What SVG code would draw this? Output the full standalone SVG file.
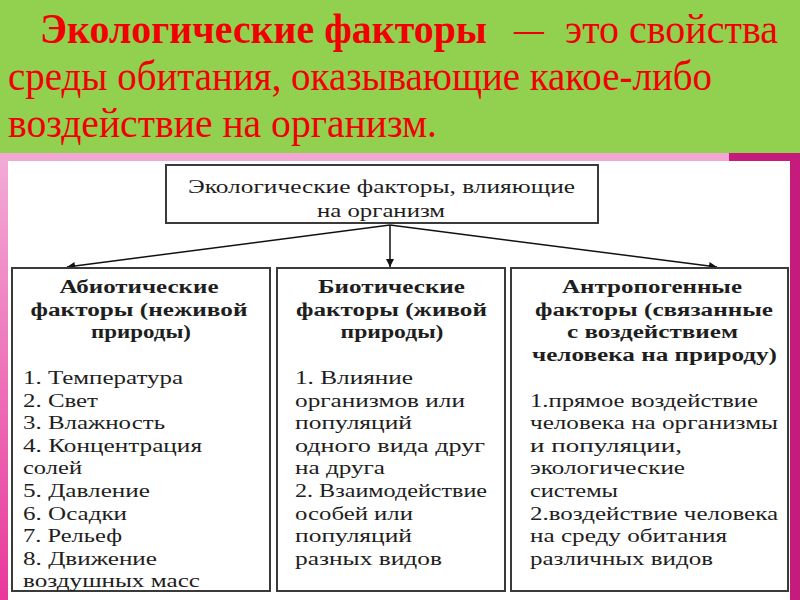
<svg xmlns="http://www.w3.org/2000/svg" width="800" height="600" viewBox="0 0 800 600">
<defs>
<linearGradient id="leftGrad" x1="0" y1="0" x2="0" y2="1">
<stop offset="0" stop-color="#f2aad6"/>
<stop offset="1" stop-color="#e8389a"/>
</linearGradient>
<marker id="arrow" viewBox="0 0 10 10" refX="10" refY="5" markerWidth="10" markerHeight="8" markerUnits="userSpaceOnUse" orient="auto">
<path d="M0,0 L10,5 L0,10 Z" fill="#111"/>
</marker>
</defs>
<style>
.efRed{font-family:"Liberation Serif",serif;font-size:42px;fill:#f00000;}
.efBox{fill:#fff;stroke:#3a3a3a;stroke-width:2;}
.efHead{font-family:"Liberation Serif",serif;font-weight:bold;font-size:18.5px;fill:#1e1e1e;text-anchor:middle;}
.efList{font-family:"Liberation Serif",serif;font-size:18px;fill:#1e1e1e;}
.efRoot{font-family:"Liberation Serif",serif;font-size:18.5px;fill:#1e1e1e;text-anchor:middle;}
.efConn{stroke:#111;stroke-width:1.5;fill:none;marker-end:url(#arrow);}
</style>
<g id="background">
<rect x="0" y="0" width="800" height="600" fill="#ffffff"/>
<rect x="0" y="0" width="800" height="153" fill="#92d050"/>
<rect x="0" y="153" width="729" height="8" fill="#f3a8d4"/>
<rect x="729" y="153" width="71" height="8" fill="#c41b7c"/>
<rect x="0" y="160" width="8" height="440" fill="url(#leftGrad)"/>
<rect x="790" y="153" width="10" height="447" fill="#c41b7c"/>
</g>
<g id="heading">
<text class="efRed" x="40" y="43" font-weight="bold" textLength="447" lengthAdjust="spacingAndGlyphs">Экологические факторы</text>
<text class="efRed" x="514" y="43" textLength="30" lengthAdjust="spacingAndGlyphs">—</text>
<text class="efRed" x="565" y="43" textLength="213" lengthAdjust="spacingAndGlyphs">это свойства</text>
<text class="efRed" x="8" y="90" textLength="704" lengthAdjust="spacingAndGlyphs">среды обитания, оказывающие какое-либо</text>
<text class="efRed" x="8" y="137" textLength="429" lengthAdjust="spacingAndGlyphs">воздействие на организм.</text>
</g>
<g id="connectors">
<line class="efConn" x1="390" y1="225" x2="67" y2="267"/>
<line class="efConn" x1="390" y1="225" x2="390" y2="267"/>
<line class="efConn" x1="390" y1="225" x2="717" y2="267"/>
</g>
<g id="node-root">
<rect class="efBox" x="166" y="165" width="432" height="58"/>
<text class="efRoot" x="381.5" y="193" textLength="387" lengthAdjust="spacingAndGlyphs">Экологические факторы, влияющие</text>
<text class="efRoot" x="381" y="217" textLength="128" lengthAdjust="spacingAndGlyphs">на организм</text>
</g>
<g id="node-abiotic">
<rect class="efBox" x="12" y="268" width="258" height="323"/>
<text class="efHead" x="139" y="293" textLength="159" lengthAdjust="spacingAndGlyphs">Абиотические</text>
<text class="efHead" x="139" y="316" textLength="217" lengthAdjust="spacingAndGlyphs">факторы (неживой</text>
<text class="efHead" x="141" y="338" textLength="100" lengthAdjust="spacingAndGlyphs">природы)</text>
<text class="efList" x="23" y="384" textLength="160" lengthAdjust="spacingAndGlyphs">1. Температура</text>
<text class="efList" x="23" y="406.6" textLength="75" lengthAdjust="spacingAndGlyphs">2. Свет</text>
<text class="efList" x="23" y="429.2" textLength="142" lengthAdjust="spacingAndGlyphs">3. Влажность</text>
<text class="efList" x="23" y="451.8" textLength="179" lengthAdjust="spacingAndGlyphs">4. Концентрация</text>
<text class="efList" x="23" y="474.4" textLength="59" lengthAdjust="spacingAndGlyphs">солей</text>
<text class="efList" x="23" y="497" textLength="127" lengthAdjust="spacingAndGlyphs">5. Давление</text>
<text class="efList" x="23" y="519.6" textLength="104" lengthAdjust="spacingAndGlyphs">6. Осадки</text>
<text class="efList" x="23" y="542.2" textLength="99" lengthAdjust="spacingAndGlyphs">7. Рельеф</text>
<text class="efList" x="23" y="564.8" textLength="134" lengthAdjust="spacingAndGlyphs">8. Движение</text>
<text class="efList" x="23" y="587.4" textLength="177" lengthAdjust="spacingAndGlyphs">воздушных масс</text>
</g>
<g id="node-biotic">
<rect class="efBox" x="277" y="268" width="228" height="323"/>
<text class="efHead" x="391.5" y="293" textLength="147" lengthAdjust="spacingAndGlyphs">Биотические</text>
<text class="efHead" x="391.5" y="316" textLength="191" lengthAdjust="spacingAndGlyphs">факторы (живой</text>
<text class="efHead" x="392" y="338" textLength="103" lengthAdjust="spacingAndGlyphs">природы)</text>
<text class="efList" x="295" y="384" textLength="118" lengthAdjust="spacingAndGlyphs">1. Влияние</text>
<text class="efList" x="295" y="406.6" textLength="170" lengthAdjust="spacingAndGlyphs">организмов или</text>
<text class="efList" x="295" y="429.2" textLength="117" lengthAdjust="spacingAndGlyphs">популяций</text>
<text class="efList" x="295" y="451.8" textLength="190" lengthAdjust="spacingAndGlyphs">одного вида друг</text>
<text class="efList" x="295" y="474.4" textLength="90" lengthAdjust="spacingAndGlyphs">на друга</text>
<text class="efList" x="295" y="497" textLength="192" lengthAdjust="spacingAndGlyphs">2. Взаимодействие</text>
<text class="efList" x="295" y="519.6" textLength="118" lengthAdjust="spacingAndGlyphs">особей или</text>
<text class="efList" x="295" y="542.2" textLength="117" lengthAdjust="spacingAndGlyphs">популяций</text>
<text class="efList" x="295" y="564.8" textLength="147" lengthAdjust="spacingAndGlyphs">разных видов</text>
</g>
<g id="node-anthropogenic">
<rect class="efBox" x="511" y="268" width="277" height="323"/>
<text class="efHead" x="652" y="293" textLength="180" lengthAdjust="spacingAndGlyphs">Антропогенные</text>
<text class="efHead" x="654" y="316" textLength="238" lengthAdjust="spacingAndGlyphs">факторы (связанные</text>
<text class="efHead" x="652.5" y="338" textLength="171" lengthAdjust="spacingAndGlyphs">с воздействием</text>
<text class="efHead" x="654.5" y="361" textLength="245" lengthAdjust="spacingAndGlyphs">человека на природу)</text>
<text class="efList" x="530" y="406.6" textLength="228" lengthAdjust="spacingAndGlyphs">1.прямое воздействие</text>
<text class="efList" x="530" y="429.2" textLength="248" lengthAdjust="spacingAndGlyphs">человека на организмы</text>
<text class="efList" x="530" y="451.8" textLength="152" lengthAdjust="spacingAndGlyphs">и популяции,</text>
<text class="efList" x="530" y="474.4" textLength="155" lengthAdjust="spacingAndGlyphs">экологические</text>
<text class="efList" x="530" y="497" textLength="88" lengthAdjust="spacingAndGlyphs">системы</text>
<text class="efList" x="530" y="519.6" textLength="248" lengthAdjust="spacingAndGlyphs">2.воздействие человека</text>
<text class="efList" x="530" y="542.2" textLength="197" lengthAdjust="spacingAndGlyphs">на среду обитания</text>
<text class="efList" x="530" y="564.8" textLength="183" lengthAdjust="spacingAndGlyphs">различных видов</text>
</g>
</svg>
